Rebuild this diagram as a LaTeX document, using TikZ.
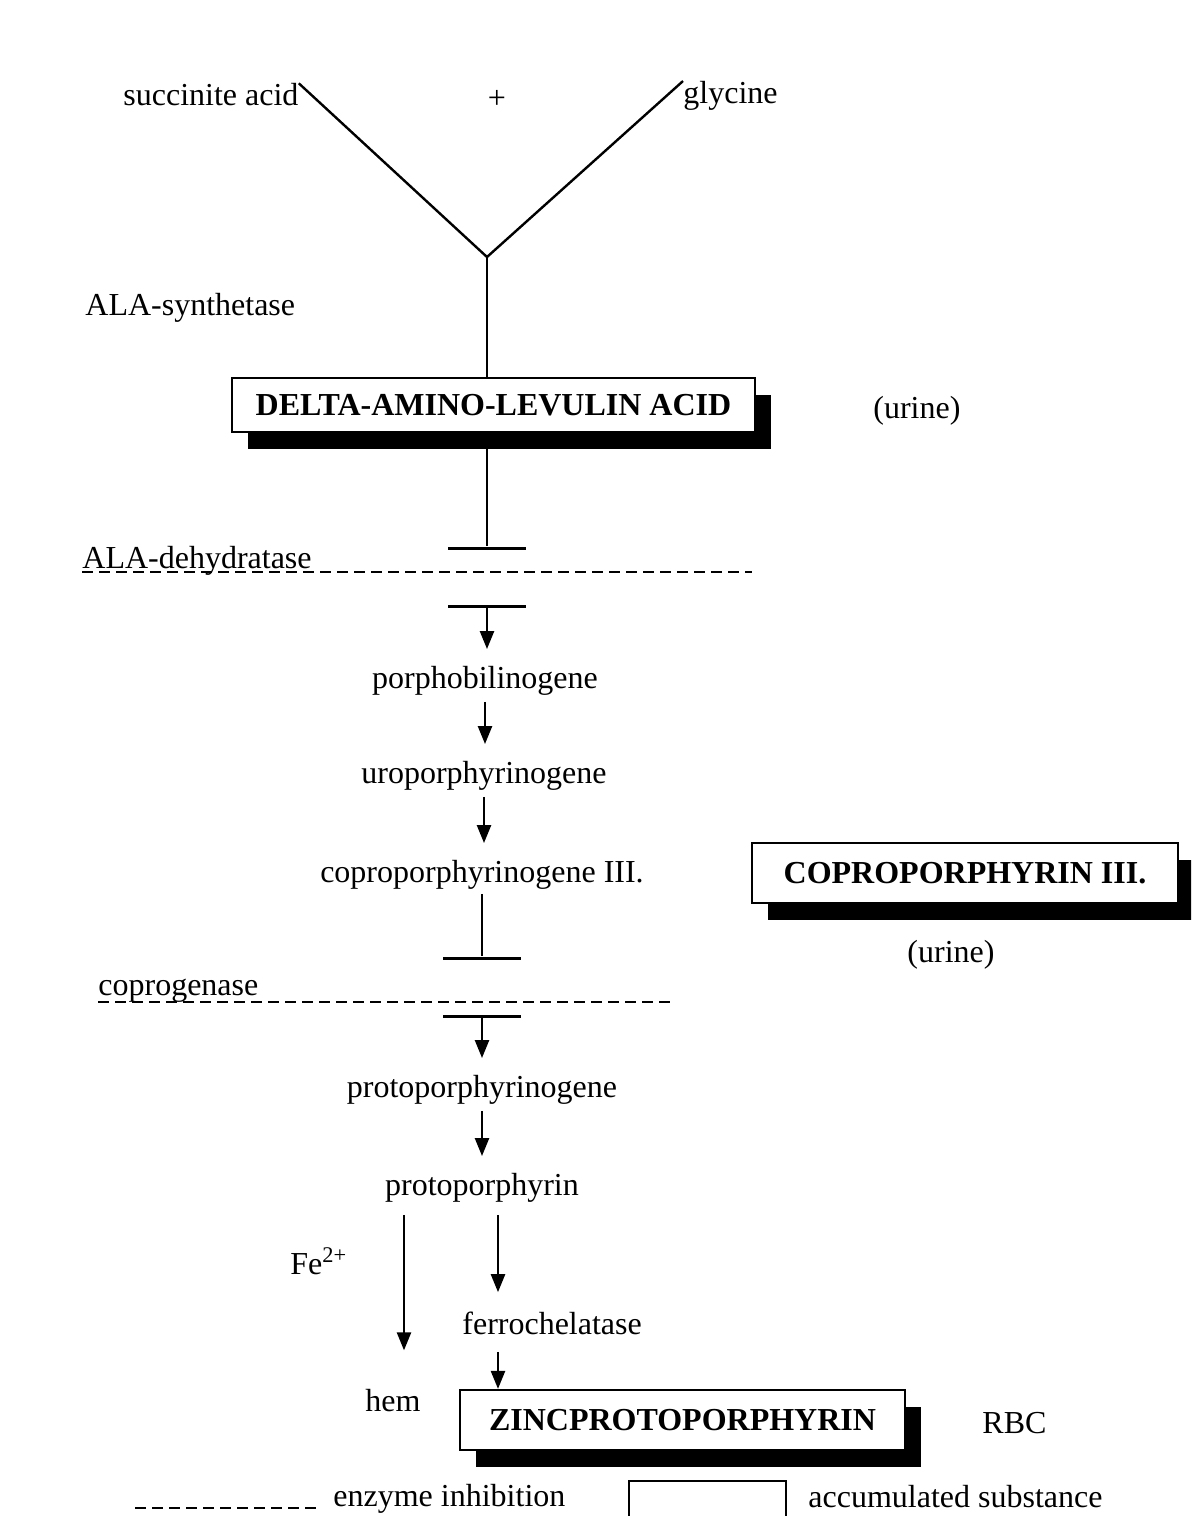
\documentclass[tikz,border=0pt]{standalone}
\usepackage{fontspec}
\setmainfont{Liberation Serif}
\usetikzlibrary{arrows.meta,shadows}
\begin{document}
\begin{tikzpicture}[x=0.5pt,y=-0.5pt,
  txt/.style={inner sep=0pt, yshift=-1.5pt, font=\fontsize{16}{19}\selectfont},
  plainbox/.style={draw, line width=1.1pt, fill=white, inner sep=0pt},
  box/.style={plainbox, font=\fontsize{16}{19}\selectfont\bfseries,
    drop shadow={shadow xshift=8pt, shadow yshift=-8.5pt, fill=black, opacity=1}},
  inhib/.style={fill=black, inner sep=0pt, minimum width=39pt, minimum height=1.5pt},
  conn/.style={line width=1.2pt},
  arr/.style={line width=1.2pt, -{Triangle[width=7pt,length=9pt]}, shorten <=3pt, shorten >=8.5pt},
  enz/.style={line width=1pt, dash pattern=on 5.5pt off 3pt}
]
\clip (0,0) rectangle (1191,1516);
\fill[white] (0,0) rectangle (1191,1516);

% top: reactants
\node[txt, anchor=west] (succ) at (123,92) {succinite acid};
\node[txt] (plus) at (497,96) {+};
\node[txt, anchor=west] (gly) at (683,93) {glycine};
\coordinate (j) at (487,257);
\draw[conn] (succ.north east) -- (j) -- (gly.north west);
\node[txt, anchor=west] (alas) at (85,305) {ALA-synthetase};

% ALA box
\node[box, minimum width=261.5pt, minimum height=27pt] (delta) at (493.5,405) {DELTA-AMINO-LEVULIN ACID};
\draw[conn] (j) -- (j |- delta.north);
\node[txt, anchor=west] (ur1) at (873,408) {(urine)};

% ALA-dehydratase inhibition
\node[inhib] (b1) at (487,548) {};
\draw[conn] (b1 |- delta.south) -- (b1);
\node[txt, anchor=west] (ald) at (82,558) {ALA-dehydratase};
\coordinate (ald-e) at (752,572);
\draw[enz] (ald.west |- ald-e) -- (ald-e);
\node[inhib] (b2) at (487,606) {};

% chain
\node[txt] (porpho) at (485,678) {porphobilinogene};
\draw[arr, shorten <=0pt] (b2) -- (b2 |- porpho.north);
\node[txt] (uro) at (484,773) {uroporphyrinogene};
\draw[arr] (porpho.south) -- (porpho.south |- uro.north);
\node[txt] (copro) at (482,872) {coproporphyrinogene III.};
\draw[arr] (uro.south) -- (uro.south |- copro.north);

\node[box, minimum width=213pt, minimum height=30pt] (cbox) at (965,873) {COPROPORPHYRIN III.};
\node[txt] (ur2) at (951,952) {(urine)};

% coprogenase inhibition
\node[inhib] (b3) at (482,958) {};
\draw[conn, shorten <=2pt] (copro.south -| b3) -- (b3);
\node[txt, anchor=west] (cgen) at (98,988) {coprogenase};
\coordinate (cg-e) at (670,1002);
\draw[enz] (cgen.west |- cg-e) -- (cg-e);
\node[inhib] (b4) at (482,1016) {};

\node[txt] (protogen) at (482,1087) {protoporphyrinogene};
\draw[arr, shorten <=0pt] (b4) -- (b4 |- protogen.north);
\node[txt] (proto) at (482,1185) {protoporphyrin};
\draw[arr] (protogen.south) -- (protogen.south |- proto.north);

% bottom branch
\coordinate (lx) at (404,0);
\coordinate (rx) at (498,0);
\node[txt, anchor=west] (fe) at (290,1258) {Fe\textsuperscript{2+}};
\node[txt, anchor=west] (ferro) at (462,1320) {ferrochelatase};
\node[txt, anchor=west] (hem) at (365,1398) {hem};
\node[box, minimum width=222.5pt, minimum height=30pt] (zinc) at (682.5,1420) {ZINCPROTOPORPHYRIN};
\node[txt, anchor=west] (rbc) at (982,1420) {RBC};
\draw[arr, shorten <=6pt, shorten >=19.5pt] (proto.south -| lx) -- (hem.north -| lx);
\draw[arr, shorten <=6pt, shorten >=9.5pt] (proto.south -| rx) -- (ferro.north -| rx);
\draw[arr, shorten <=8.5pt, shorten >=0pt] (ferro.south -| rx) -- (zinc.north -| rx);

% legend
\coordinate (lg1) at (135,1508);
\coordinate (lg2) at (320,1508);
\draw[enz] (lg1) -- (lg2);
\node[txt, anchor=west] (einh) at (333,1496) {enzyme inhibition};
\node[plainbox, anchor=north west, minimum width=78.5pt, minimum height=30pt] (lbox) at (628,1480) {};
\node[txt, anchor=west] (acc) at (808,1494) {accumulated substance};
\end{tikzpicture}
\end{document}
